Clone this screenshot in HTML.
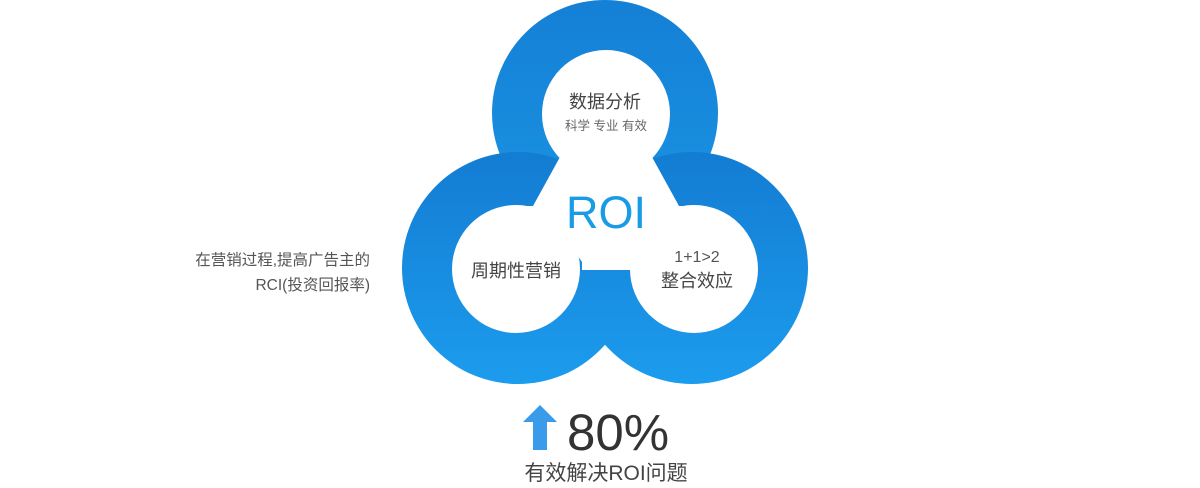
<!DOCTYPE html>
<html><head><meta charset="utf-8"><style>
body{margin:0;width:1200px;height:483px;background:#fff;overflow:hidden}
svg text{font-family:"Liberation Sans","Noto Sans CJK SC",sans-serif}
</style></head><body>
<svg width="1200" height="483" viewBox="0 0 1200 483">
<defs>
<linearGradient id="gt" x1="0" y1="0" x2="0" y2="1"><stop offset="0" stop-color="#1480d6"/><stop offset="1" stop-color="#1b93e2"/></linearGradient>
<linearGradient id="gb" x1="0" y1="0" x2="0" y2="1"><stop offset="0" stop-color="#137cd3"/><stop offset="1" stop-color="#1c9ced"/></linearGradient>
</defs>
<circle cx="605" cy="113" r="113" fill="url(#gt)"/>
<circle cx="518" cy="268" r="116" fill="url(#gb)"/>
<circle cx="692" cy="268" r="116" fill="url(#gb)"/>
<circle cx="606" cy="114" r="64" fill="#fff"/>
<circle cx="516" cy="269" r="64" fill="#fff"/>
<circle cx="694" cy="269" r="64" fill="#fff"/>
<polygon points="560,157 652,157 679,206 694,206 638,240 634,256 632,262 632,270 582,270 582,262 578,256 573,240 516,206 533,206" fill="#fff"/>
<text x="605" y="108" font-size="18" fill="#444" text-anchor="middle">数据分析</text>
<text x="606" y="130" font-size="12.5" fill="#666" text-anchor="middle">科学 专业 有效</text>
<text x="606" y="228" font-size="45" fill="#1a9be6" text-anchor="middle">ROI</text>
<text x="516" y="277" font-size="18" fill="#444" text-anchor="middle">周期性营销</text>
<text x="697" y="262" font-size="16" fill="#555" text-anchor="middle">1+1&gt;2</text>
<text x="697" y="287" font-size="18" fill="#444" text-anchor="middle">整合效应</text>
<text x="370" y="265" font-size="15.5" fill="#555" text-anchor="end">在营销过程,提高广告主的</text>
<text x="370" y="290" font-size="15.5" fill="#555" text-anchor="end">RCI(投资回报率)</text>
<polygon points="540,405 557,422 547,422 547,450 533,450 533,422 523,422" fill="#3a9bea"/>
<text x="567" y="450" font-size="51" fill="#333">80%</text>
<text x="606" y="480" font-size="21" fill="#444" text-anchor="middle">有效解决ROI问题</text>
</svg>
</body></html>
